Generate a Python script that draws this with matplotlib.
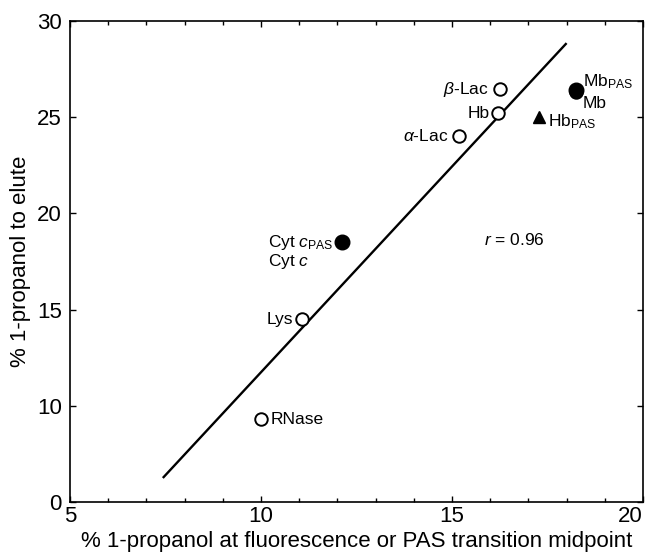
import matplotlib
matplotlib.use("Agg")
import matplotlib.pyplot as plt
from matplotlib.ticker import MultipleLocator

plt.rcParams['font.family'] = ['Liberation Sans', 'DejaVu Sans']
plt.rcParams['mathtext.fontset'] = 'custom'
plt.rcParams['mathtext.rm'] = 'Liberation Sans'
plt.rcParams['mathtext.it'] = 'Liberation Sans:italic'
plt.rcParams['mathtext.bf'] = 'Liberation Sans:bold'

# open circles (fluorescence midpoints)
open_names = ['RNase', 'Lys', r'$\alpha$-Lac', 'Hb', r'$\beta$-Lac', 'Mb']
open_x = [10.0, 11.07, 15.18, 16.2, 16.25, 18.25]
open_y = [9.3, 14.5, 24.0, 25.2, 26.45, 26.3]

# filled circles (PAS midpoints)
pas_names = [r'Cyt $c$$_{\mathrm{PAS}}$', r'Mb$_{\mathrm{PAS}}$']
pas_x = [12.12, 18.25]
pas_y = [18.5, 26.4]

# filled triangle
tri_names = [r'Hb$_{\mathrm{PAS}}$']
tri_x = [17.28]
tri_y = [25.0]

# regression line end points
fit_x = [7.43, 18.0]
fit_y = [6.25, 28.85]
r_value = 0.96

x_ticks = [5, 10, 15, 20]
y_ticks = [5, 10, 15, 20, 25, 30]
y_tick_labels = ['0', '10', '15', '20', '25', '30']

fig = plt.figure(figsize=(6.5, 5.57), dpi=100)
ax = fig.add_axes([0.1077, 0.0987, 0.8815, 0.8636])

ax.plot(fit_x, fit_y, color='black', lw=1.7, solid_capstyle='butt', zorder=1)
ax.plot(open_x, open_y, 'o', ms=9, mfc='white', mec='black', mew=1.4, ls='none', zorder=2)
ax.plot(pas_x, pas_y, 'o', ms=10.5, color='black', ls='none', zorder=3)
ax.plot(tri_x, tri_y, '^', ms=8, color='black', ls='none', zorder=3)

fs = 12.5
# labels of open circles
ax.text(10.24, open_y[0], open_names[0], fontsize=fs, ha='left', va='center')
ax.text(10.84, open_y[1], open_names[1], fontsize=fs, ha='right', va='center')
ax.text(14.9, open_y[2], open_names[2], fontsize=fs, ha='right', va='center')
ax.text(15.98, open_y[3], open_names[3], fontsize=fs, ha='right', va='center')
ax.text(15.95, open_y[4], open_names[4], fontsize=fs, ha='right', va='center')
ax.text(18.43, 25.7, open_names[5], fontsize=fs, ha='left', va='center')
# PAS labels
ax.text(10.18, pas_y[0], pas_names[0], fontsize=fs, ha='left', va='center')
ax.text(10.18, pas_y[0] - 1.0, r'Cyt $c$', fontsize=fs, ha='left', va='center')
ax.text(18.43, 26.85, pas_names[1], fontsize=fs, ha='left', va='center')
ax.text(17.51, 24.75, tri_names[0], fontsize=fs, ha='left', va='center')

ax.text(16.62, 18.6, r'$r$ = %.2f' % r_value, fontsize=fs, ha='center', va='center')

ax.set_xlim(5, 20)
ax.set_ylim(5, 30)
ax.set_xticks(x_ticks)
ax.xaxis.set_minor_locator(MultipleLocator(1))
ax.set_yticks(y_ticks)
ax.set_yticklabels(y_tick_labels)

ax.tick_params(which='both', direction='in', top=True, right=True, width=1.0)
ax.tick_params(which='major', length=4, labelsize=16)
ax.tick_params(axis='x', which='major', pad=3)
ax.tick_params(axis='y', which='major', pad=6)
ax.tick_params(which='minor', length=3)
ax.get_xticklabels()[-1].set_horizontalalignment('right')
for s in ax.spines.values():
    s.set_linewidth(1.2)

ax.set_xlabel('% 1-propanol at fluorescence or PAS transition midpoint', fontsize=16, labelpad=3)
ax.set_ylabel('% 1-propanol to elute', fontsize=16, labelpad=4)

fig.savefig('out.png', dpi=100)
